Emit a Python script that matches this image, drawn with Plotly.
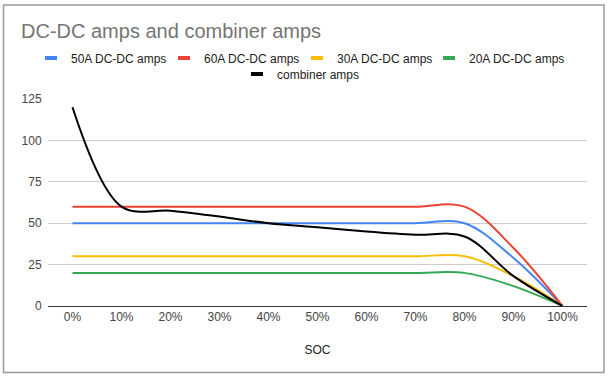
import plotly.graph_objects as go

soc = ["0%", "10%", "20%", "30%", "40%", "50%", "60%", "70%", "80%", "90%", "100%"]
amps_50a = [50, 50, 50, 50, 50, 50, 50, 50, 50, 29, 0]
amps_60a = [60, 60, 60, 60, 60, 60, 60, 60, 60, 35, 0]
amps_30a = [30, 30, 30, 30, 30, 30, 30, 30, 30, 18, 0]
amps_20a = [20, 20, 20, 20, 20, 20, 20, 20, 20, 12, 0]
combiner = [120, 60, 57.5, 54, 50, 47.5, 45, 43, 42, 18, 0]
y_ticks = [0, 25, 50, 75, 100, 125]

W, H = 608, 376
L, R, T, B = 48, 21, 99, 70
PW, PH = W - L - R, H - T - B

# (name, values, colour, legend id, legend symbol centre x px, legend row y px)
series = [
    ("50A DC-DC amps", amps_50a, "#4285F4", "legend", 51, 58),
    ("60A DC-DC amps", amps_60a, "#EA4335", "legend2", 184, 58),
    ("30A DC-DC amps", amps_30a, "#FBBC04", "legend3", 317, 58),
    ("20A DC-DC amps", amps_20a, "#34A853", "legend4", 449, 58),
    ("combiner amps", combiner, "#000000", "legend5", 257, 74),
]

fig = go.Figure()
for name, vals, color, lg, lx, ly in series:
    fig.add_trace(go.Scatter(
        x=soc, y=vals, name=name, mode="lines", showlegend=False,
        line=dict(color=color, width=2, shape="spline", smoothing=1),
    ))
# legend-only stubs (short thick rectangles like the original legend)
for name, vals, color, lg, lx, ly in series:
    fig.add_trace(go.Scatter(
        x=[None], y=[None], name=name, mode="markers", legend=lg,
        marker=dict(symbol="line-ew", size=8.6, color=color,
                    line=dict(color=color, width=4)),
    ))

legends = {}
for name, vals, color, lg, lx, ly in series:
    legends[lg] = dict(orientation="h", x=(lx - 20 - L) / PW, xanchor="left",
                       y=1 + (T - ly) / PH, yanchor="middle",
                       font=dict(size=12, color="#222222"), itemwidth=30,
                       bgcolor="rgba(0,0,0,0)")

fig.update_layout(
    width=W, height=H,
    margin=dict(l=L, r=R, t=T, b=B, autoexpand=False),
    paper_bgcolor="white", plot_bgcolor="white",
    font=dict(family="Liberation Sans, Arial, sans-serif", size=12, color="#222222"),
    title=dict(text="DC-DC amps and combiner amps", xref="container", yref="container",
               x=21 / W, xanchor="left", y=1 - 31 / H, yanchor="middle",
               font=dict(size=20, color="#757575")),
    showlegend=True,
    **legends,
    xaxis=dict(type="category", range=[-0.5, 10.5], showgrid=False,
               showline=True, linecolor="#333333", linewidth=1,
               ticks="", tickfont=dict(size=12, color="#444444"), tickangle=0,
               title=dict(text="SOC", font=dict(size=12, color="#222222"), standoff=22),
               zeroline=False, fixedrange=True),
    yaxis=dict(range=[0, 125], tickvals=y_ticks, showgrid=True, gridcolor="#cccccc",
               gridwidth=1, zeroline=False, showline=False,
               ticks="outside", ticklen=3, tickcolor="rgba(0,0,0,0)",
               tickfont=dict(size=12, color="#444444"),
               fixedrange=True),
    shapes=[dict(type="rect", xref="paper", yref="paper",
                 x0=(3.5 - L) / PW, x1=(604 - L) / PW,
                 y0=1 - (372.5 - T) / PH, y1=1 - (5 - T) / PH,
                 line=dict(color="#9a9a9a", width=1.5), layer="below")],
)

fig.write_html("out.html", config={"displayModeBar": False},
               post_script="document.body.style.margin='0';document.body.style.overflow='hidden';")
